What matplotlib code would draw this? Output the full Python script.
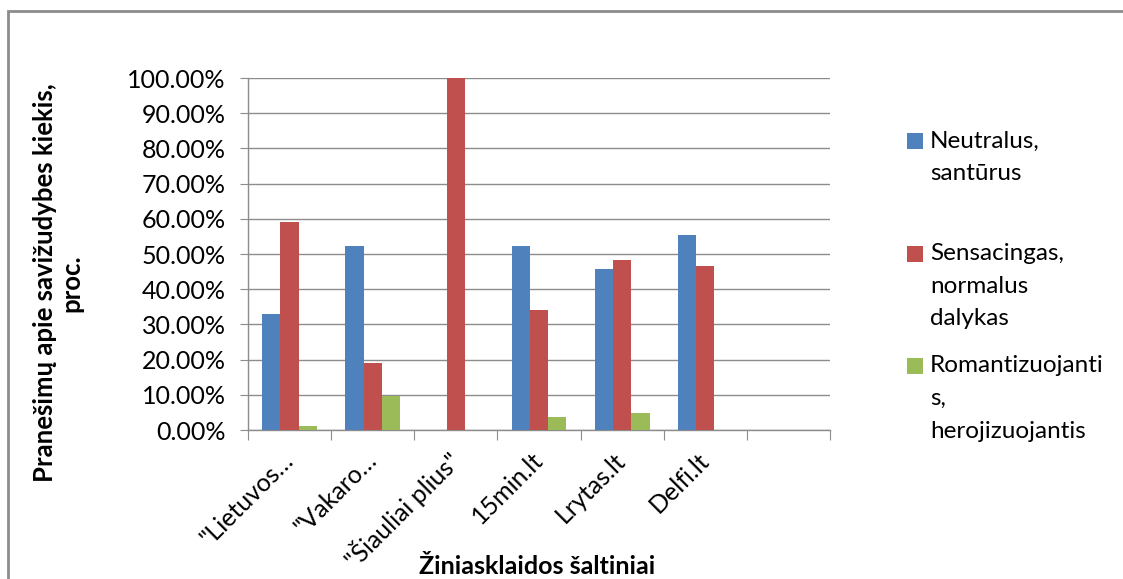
import matplotlib
matplotlib.use("Agg")
import matplotlib.pyplot as plt
from matplotlib.patches import Rectangle
from matplotlib.ticker import PercentFormatter, FixedLocator
import numpy as np

plt.rcParams['font.family'] = ['Lato', 'DejaVu Sans']

categories = ['"Lietuvos…', '"Vakaro…', '"Šiauliai plius"', '15min.lt', 'Lrytas.lt', 'Delfi.lt', '']
series_names = ['Neutralus,\nsantūrus', 'Sensacingas,\nnormalus\ndalykas',
                'Romantizuojanti\ns,\nherojizuojantis']
neutralus = [0.33, 0.523, 0.0, 0.523, 0.456, 0.555, 0.0]
sensacingas = [0.592, 0.191, 1.0, 0.341, 0.482, 0.465, 0.0]
romantizuojantis = [0.01, 0.098, 0.0, 0.038, 0.048, 0.0, 0.0]
colors = ['#4F81BD', '#C0504D', '#9BBB59']

W, H = 1123, 579
fig = plt.figure(figsize=(W / 100, H / 100), dpi=100)

def fx(px):
    return px / W

def fy(py):
    return 1 - py / H

# outer chart frame (runs off the right/bottom edge)
fig.patches.append(Rectangle((fx(8), fy(H + 20)), fx(W + 20), (H + 9) / H,
                             transform=fig.transFigure, fill=False,
                             edgecolor='#8c8c8c', linewidth=2))

ax = fig.add_axes([fx(248), fy(430), fx(830 - 248), (430 - 78) / H])

x = np.arange(len(categories)) + 0.5
width = 0.22
for i, vals in enumerate([neutralus, sensacingas, romantizuojantis]):
    ax.bar(x + (i - 1) * width, vals, width, color=colors[i], zorder=3)

ax.set_xlim(0, len(categories))
ax.set_ylim(0, 1)
ax.yaxis.set_major_locator(FixedLocator(np.linspace(0, 1, 11)))
ax.yaxis.set_major_formatter(PercentFormatter(1, decimals=2))
ax.grid(axis='y', color='#8c8c8c', linewidth=1, zorder=0)

ax.set_xticks(np.arange(len(categories) + 1))
ax.set_xticklabels([])
ax.set_xticks(x, minor=True)
ax.set_xticklabels(categories, minor=True, rotation=45, ha='right', va='center',
                   rotation_mode='anchor', fontsize=18)
ax.tick_params(axis='x', which='minor', length=0, pad=19)
ax.tick_params(axis='x', which='major', length=7, color='#8c8c8c', direction='out')
ax.tick_params(axis='y', length=6, color='#8c8c8c', direction='out', labelsize=18, pad=10)

for side in ['top', 'right']:
    ax.spines[side].set_visible(False)
for side in ['left', 'bottom']:
    ax.spines[side].set_color('#8c8c8c')
    ax.spines[side].set_linewidth(1)

fig.text(fx(58), fy(283), 'Pranešimų apie savižudybes kiekis,\nproc.', rotation=90,
         ha='center', va='center', fontsize=18.5, fontweight='bold', linespacing=1.1)
fig.text(fx(537), fy(566), 'Žiniasklaidos šaltiniai', ha='center', va='center',
         fontsize=18, fontweight='bold')

# legend drawn by hand so the square sits on the first line of each entry
for i, name in enumerate(series_names):
    top = 133 + i * 112.5
    fig.patches.append(Rectangle((fx(907), fy(top + 16)), fx(16), 16 / H,
                                 transform=fig.transFigure, facecolor=colors[i],
                                 edgecolor='none'))
    for j, line in enumerate(name.split('\n')):
        fig.text(fx(930), fy(top + 8 + j * 32.5), line, ha='left', va='center', fontsize=17.5)

fig.savefig('out.png', dpi=100)
